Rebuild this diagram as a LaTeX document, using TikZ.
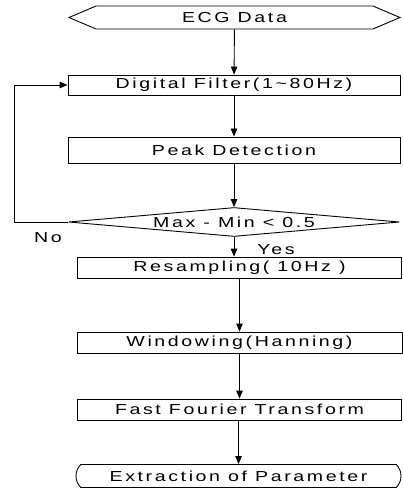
\documentclass[tikz,border=0pt]{standalone}
\usepackage{fontspec}
\setmainfont{Liberation Sans}[FakeStretch=1.35, LetterSpace=18]
\usepackage{tikz}
\usetikzlibrary{shapes.geometric, shapes.symbols, shapes.misc, arrows.meta, positioning}

\tikzset{
  flowbox/.style={draw, line width=0.9pt, rectangle, inner sep=0pt, minimum height=21pt},
  flowarrow/.style={-{Triangle[length=8pt, width=6.5pt]}, line width=0.9pt},
}

\begin{document}
\begin{tikzpicture}[x=1pt, y=-1pt, font=\fontsize{14.5}{17}\selectfont]
  \useasboundingbox (0,0) rectangle (402,489);

  % input / output terminals
  \node[draw, line width=0.9pt, signal, signal to=west and east, signal pointer angle=46,
        inner sep=0pt, minimum width=331pt, minimum height=23pt] (ecg) at (234.5,17.5) {ECG Data};
  \node[draw, line width=0.9pt, rounded rectangle, rounded rectangle arc length=90,
        inner sep=0pt, minimum width=325pt, minimum height=23pt] (extr) at (238.5,476) {Extraction of Parameter};

  % processing steps
  \node[flowbox, minimum width=332pt, minimum height=20pt] (filt) at (234,85) {Digital Filter(1\textasciitilde80Hz)};
  \node[flowbox, minimum width=332pt, minimum height=26pt] (peak) at (234,150) {Peak Detection};
  \node[flowbox, minimum width=324pt] (resamp) at (239.5,267.5) {Resampling( 10Hz )};
  \node[flowbox, minimum width=325pt] (wind) at (239.5,342.5) {Windowing(Hanning)};
  \node[flowbox, minimum width=324pt] (fft) at (239.5,409.5) {Fast Fourier Transform};

  % threshold test
  \node[draw, line width=0.9pt, diamond, aspect=11.4, inner sep=0pt,
        minimum width=331pt, minimum height=29pt] (check) at (234,222) {Max - Min < 0.5};

  \node (no) at (48,238) {No};
  \node (yes) at (276,250) {Yes};

  \coordinate (back) at (14,222);

  % main flow
  \draw[flowarrow] (ecg) -- (filt);
  \draw[flowarrow] (filt) -- (peak);
  \draw[flowarrow] (peak) -- (check);
  \draw[flowarrow] (check.south) -- (check.south |- resamp.north);
  \draw[flowarrow] (resamp.south -| wind) -- (wind);
  \draw[flowarrow] (wind.south -| fft) -- (fft);
  \draw[flowarrow] (fft.south -| extr) -- (extr);

  % repeat filtering when the range is too large
  \draw[flowarrow] (check.west) -- (back) |- (filt.west);
\end{tikzpicture}
\end{document}
